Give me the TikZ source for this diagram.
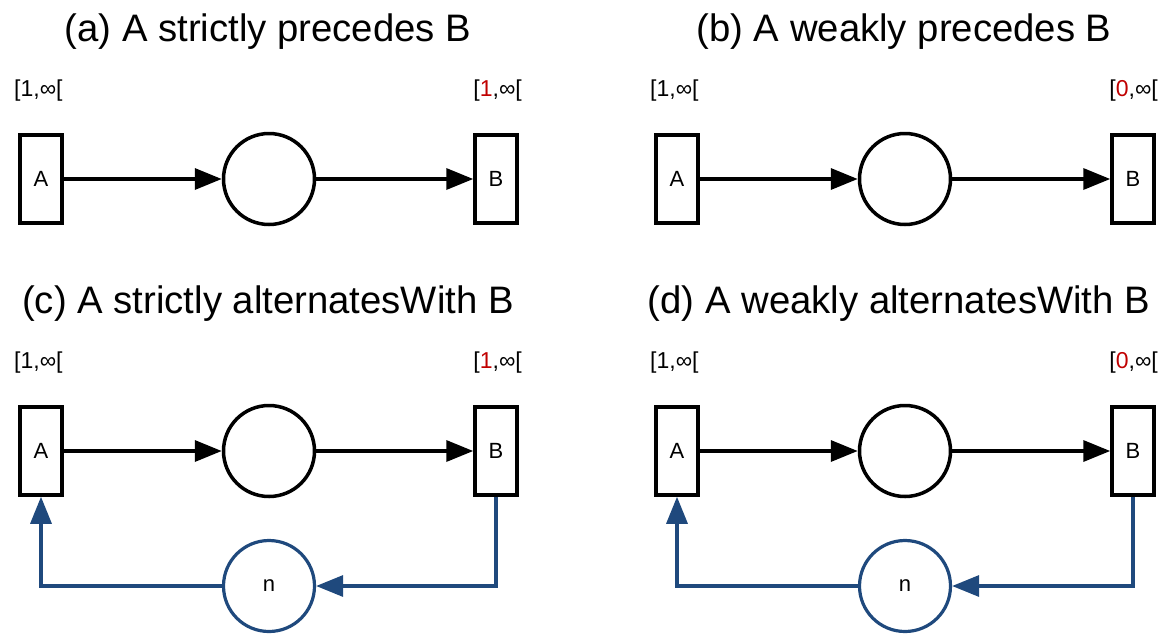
\documentclass[tikz,border=0pt]{standalone}
\usepackage{fontspec}
\setmainfont{Liberation Sans}
\usetikzlibrary{arrows.meta}
\definecolor{nblue}{RGB}{31,73,125}
\definecolor{nred}{RGB}{192,0,0}
\begin{document}
\begin{tikzpicture}[x=1pt,y=-1pt,
  trans/.style={draw, line width=3.5pt, minimum width=42pt, minimum height=88pt, inner sep=0pt, font=\fontsize{22}{24}\selectfont},
  place/.style={circle, draw, line width=3.5pt, minimum size=91pt, inner sep=0pt, font=\fontsize{22}{24}\selectfont},
  bplace/.style={place, draw=nblue, line width=3.2pt},
  arc/.style={line width=3.5pt, -{Triangle[length=27pt,width=21pt]}},
  barc/.style={line width=3.2pt, draw=nblue, -{Triangle[length=27pt,width=21pt]}},
  title/.style={anchor=base, font=\fontsize{38.3}{40}\selectfont},
  bound/.style={font=\fontsize{23}{25}\selectfont, inner sep=0pt}]
\useasboundingbox (0,0) rectangle (1165,633);

% (a)
\node[title] (ta) at (268,41) {(a) A strictly precedes B};
\node[bound, anchor=base west] (la1) at (14,96) {[1,∞[};
\node[bound, anchor=base east] (la2) at (522,96) {[\textcolor{nred}{1},∞[};
\node[trans] (Aa) at (41,179) {A};
\node[place] (Pa) at (269,179) {};
\node[trans] (Ba) at (496,179) {B};
\draw[arc] (Aa) -- (Pa);
\draw[arc] (Pa) -- (Ba);

% (b)
\node[title] (tb) at (904,41) {(b) A weakly precedes B};
\node[bound, anchor=base west] (lb1) at (650,96) {[1,∞[};
\node[bound, anchor=base east] (lb2) at (1158,96) {[\textcolor{nred}{0},∞[};
\node[trans] (Ab) at (677,179) {A};
\node[place] (Pb) at (905,179) {};
\node[trans] (Bb) at (1133,179) {B};
\draw[arc] (Ab) -- (Pb);
\draw[arc] (Pb) -- (Bb);

% (c)
\node[title] (tc) at (268,313) {(c) A strictly alternatesWith B};
\node[bound, anchor=base west] (lc1) at (14,368) {[1,∞[};
\node[bound, anchor=base east] (lc2) at (522,368) {[\textcolor{nred}{1},∞[};
\node[trans] (Ac) at (41,451) {A};
\node[place] (Pc) at (269,451) {};
\node[trans] (Bc) at (496,451) {B};
\node[bplace] (Nc) at (269,586) {n};
\draw[arc] (Ac) -- (Pc);
\draw[arc] (Pc) -- (Bc);
\draw[barc] (Bc.south) |- (Nc.east);
\draw[barc] (Nc.west) -| (Ac.south);

% (d)
\node[title] (td) at (899,313) {(d) A weakly alternatesWith B};
\node[bound, anchor=base west] (ld1) at (650,368) {[1,∞[};
\node[bound, anchor=base east] (ld2) at (1158,368) {[\textcolor{nred}{0},∞[};
\node[trans] (Ad) at (677,451) {A};
\node[place] (Pd) at (905,451) {};
\node[trans] (Bd) at (1133,451) {B};
\node[bplace] (Nd) at (905,586) {n};
\draw[arc] (Ad) -- (Pd);
\draw[arc] (Pd) -- (Bd);
\draw[barc] (Bd.south) |- (Nd.east);
\draw[barc] (Nd.west) -| (Ad.south);
\end{tikzpicture}
\end{document}
